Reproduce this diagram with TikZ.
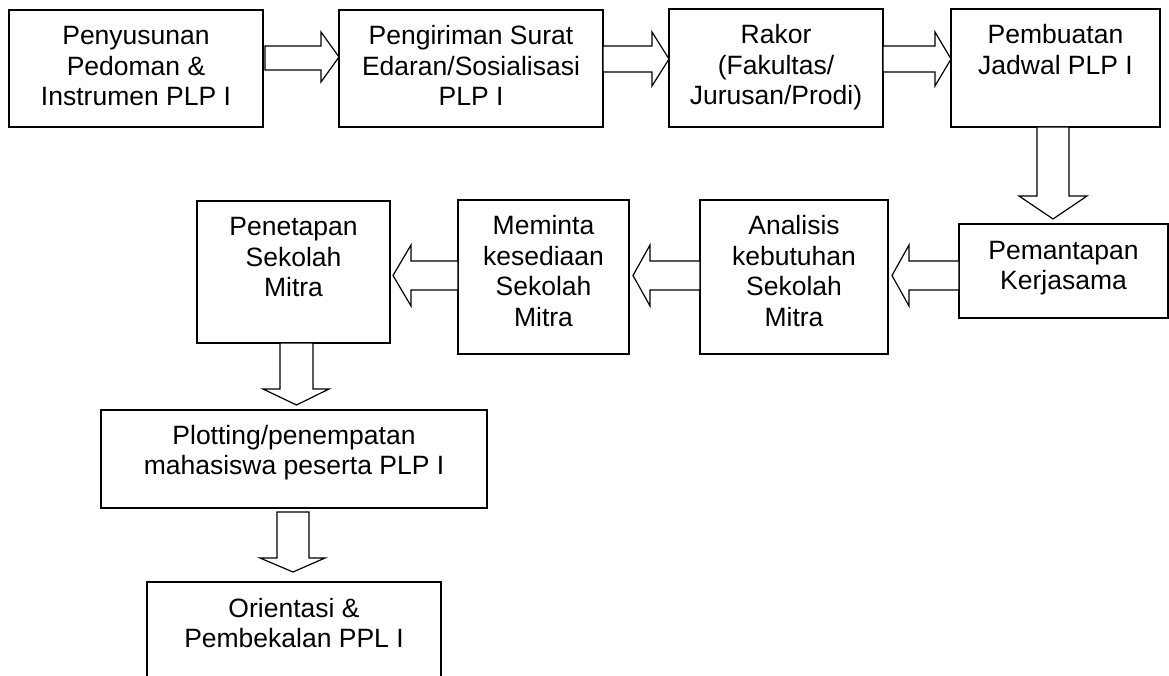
\documentclass[tikz,border=0pt]{standalone}
\usepackage{fontspec}
\setmainfont{Liberation Sans}
\usetikzlibrary{calc}
\setlength{\tabcolsep}{0pt}
\tikzset{
  x=1pt,y=1pt,
  box/.style={draw=black,line width=1.5pt,fill=white,inner sep=0pt,outer sep=0pt,anchor=north west},
  lbl/.style={anchor=base,inner sep=0pt,font=\fontsize{26.5}{30.5}\selectfont},
  barrow/.style={draw=black,line width=1.2pt,fill=white,line join=miter},
}
\newcommand{\bx}[5]{% name, x, y, w, h
  \node[box,minimum width=#4pt,minimum height=#5pt] (#1) at (#2,-#3) {};}
\begin{document}
\begin{tikzpicture}
\useasboundingbox (0,0) rectangle (1169,-676);
\fill[white] (0,0) rectangle (1169,-676);
\clip (0,0) rectangle (1169,-676);

% boxes
\bx{b1}{9}{10}{254}{117}
\bx{b2}{339}{10}{264}{117}
\bx{b3}{669}{9}{214}{118}
\bx{b4}{951}{9}{209}{118}
\bx{b5}{959}{224}{209}{94}
\bx{b6}{700}{200}{188}{154}
\bx{b7}{458}{200}{171}{154}
\bx{b8}{197}{201}{193}{142}
\bx{b9}{101}{410}{386}{98}
\bx{b10}{147}{582}{294}{120}

% labels
\node[lbl] (t1) at ([yshift=-35pt]b1.north) {\begin{tabular}[t]{c}Penyusunan\\Pedoman \&\\Instrumen PLP I\end{tabular}};
\node[lbl] (t2) at ([yshift=-35pt]b2.north) {\begin{tabular}[t]{c}Pengiriman Surat\\Edaran/Sosialisasi\\PLP I\end{tabular}};
\node[lbl] (t3) at ([yshift=-35pt]b3.north) {\begin{tabular}[t]{c}Rakor\\(Fakultas/\\Jurusan/Prodi)\end{tabular}};
\node[lbl] (t4) at ([yshift=-35pt]b4.north) {\begin{tabular}[t]{c}Pembuatan\\Jadwal PLP I\end{tabular}};
\node[lbl] (t5) at ([yshift=-35pt]b5.north) {\begin{tabular}[t]{c}Pemantapan\\Kerjasama\end{tabular}};
\node[lbl] (t6) at ([yshift=-35pt]b6.north) {\begin{tabular}[t]{c}Analisis\\kebutuhan\\Sekolah\\Mitra\end{tabular}};
\node[lbl] (t7) at ([yshift=-35pt]b7.north) {\begin{tabular}[t]{c}Meminta\\kesediaan\\Sekolah\\Mitra\end{tabular}};
\node[lbl] (t8) at ([yshift=-35pt]b8.north) {\begin{tabular}[t]{c}Penetapan\\Sekolah\\Mitra\end{tabular}};
\node[lbl] (t9) at ([yshift=-34pt]b9.north) {\begin{tabular}[t]{c}Plotting/penempatan\\mahasiswa peserta PLP I\end{tabular}};
\node[lbl] (t10) at ([yshift=-35pt]b10.north) {\begin{tabular}[t]{c}Orientasi \&\\Pembekalan PPL I\end{tabular}};

% right block arrows
\draw[barrow] let \p1=(b1.east), \p2=(b2.west) in
  (\x1+2pt,-46pt) -- (\x2-18pt,-46pt) -- (\x2-18pt,-32pt) -- (\x2,-57pt)
  -- (\x2-18pt,-82pt) -- (\x2-18pt,-70pt) -- (\x1+2pt,-70pt) -- cycle;
\draw[barrow] let \p1=(b2.east), \p2=(b3.west) in
  (\x1,-46pt) -- (\x2-17pt,-46pt) -- (\x2-17pt,-32pt) -- (\x2,-59pt)
  -- (\x2-17pt,-86pt) -- (\x2-17pt,-72pt) -- (\x1,-72pt) -- cycle;
\draw[barrow] let \p1=(b3.east), \p2=(b4.west) in
  (\x1,-46pt) -- (\x2-16pt,-46pt) -- (\x2-16pt,-32pt) -- (\x2,-59pt)
  -- (\x2-16pt,-86pt) -- (\x2-16pt,-72pt) -- (\x1,-72pt) -- cycle;

% down arrow b4 -> b5
\draw[barrow] let \p1=(b4.south), \p2=(b5.north) in
  (1037pt,\y1) -- (1037pt,\y2+28pt) -- (1019pt,\y2+28pt) -- (1053pt,\y2+5pt)
  -- (1087pt,\y2+28pt) -- (1069pt,\y2+28pt) -- (1069pt,\y1) -- cycle;

% left block arrows
\draw[barrow] let \p1=(b5.west), \p2=(b6.east) in
  (\x1,-261pt) -- (\x2+21pt,-261pt) -- (\x2+21pt,-245pt) -- (\x2+4pt,-275.5pt)
  -- (\x2+21pt,-306pt) -- (\x2+21pt,-290pt) -- (\x1,-290pt) -- cycle;
\draw[barrow] let \p1=(b6.west), \p2=(b7.east) in
  (\x1,-261pt) -- (\x2+21pt,-261pt) -- (\x2+21pt,-245pt) -- (\x2+4pt,-275.5pt)
  -- (\x2+21pt,-306pt) -- (\x2+21pt,-290pt) -- (\x1,-290pt) -- cycle;
\draw[barrow] let \p1=(b7.west), \p2=(b8.east) in
  (\x1,-261pt) -- (\x2+21pt,-261pt) -- (\x2+21pt,-245pt) -- (\x2+3pt,-275.5pt)
  -- (\x2+21pt,-306pt) -- (\x2+21pt,-290pt) -- (\x1,-290pt) -- cycle;

% down arrows
\draw[barrow] let \p1=(b8.south), \p2=(b9.north) in
  (280pt,\y1) -- (280pt,\y2+21pt) -- (263pt,\y2+21pt) -- (296.5pt,\y2+5pt)
  -- (329pt,\y2+21pt) -- (313pt,\y2+21pt) -- (313pt,\y1) -- cycle;
\draw[barrow] let \p1=(b9.south), \p2=(b10.north) in
  (277pt,\y1-4pt) -- (277pt,\y2+24pt) -- (260pt,\y2+24pt) -- (293pt,\y2+10pt)
  -- (325pt,\y2+24pt) -- (309pt,\y2+24pt) -- (309pt,\y1-4pt) -- cycle;
\end{tikzpicture}
\end{document}
